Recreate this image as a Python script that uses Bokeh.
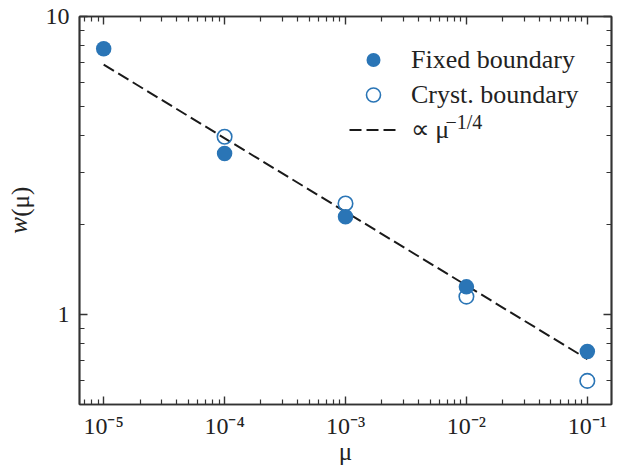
from bokeh.plotting import figure
from bokeh.models import (LogAxis, FixedTicker, CustomJSTickFormatter, Range1d,
                          Legend, LegendItem, Label)
from bokeh.embed import file_html
from bokeh.resources import INLINE

# ---- data ----
mu_fixed = [1e-5, 1e-4, 1e-3, 1e-2, 1e-1]
w_fixed = [7.8, 3.47, 2.13, 1.24, 0.753]
mu_cryst = [1e-4, 1e-3, 1e-2, 1e-1]
w_cryst = [3.95, 2.36, 1.15, 0.60]
mu_guide = [1e-5, 1e-1]
w_guide = [6.9, 0.71]

x_ticks = [1e-5, 1e-4, 1e-3, 1e-2, 1e-1]
x_tick_labels = ["10⁻⁵", "10⁻⁴", "10⁻³", "10⁻²", "10⁻¹"]
y_ticks = [1, 10]
y_tick_labels = ["1", "10"]

BLUE = "#2a75b6"
DARK = "#333333"
TXT = "#222222"
FONT = "Liberation Serif"

x_minor = [m * 10.0 ** e for e in range(-6, 0) for m in range(2, 10)]
y_minor = [m * 10.0 ** e for e in range(-1, 1) for m in range(2, 10)]

p = figure(width=617, height=470, x_axis_type="log", y_axis_type="log",
           x_range=Range1d(10 ** -5.2, 10 ** -0.8), y_range=Range1d(0.5, 10),
           output_backend="svg", toolbar_location=None,
           min_border_left=79, min_border_right=6, min_border_top=16,
           min_border_bottom=66)
p.grid.visible = False
p.outline_line_color = DARK
p.outline_line_width = 1.7
p.background_fill_color = "white"
p.border_fill_color = "white"

lab_js = """
for (let i = 0; i < vals.length; i++) {
  if (Math.abs(Math.log10(vals[i]) - Math.log10(tick)) < 1e-6) return labs[i];
}
return "";
"""
xfmt = CustomJSTickFormatter(args=dict(vals=x_ticks, labs=x_tick_labels), code=lab_js)
yfmt = CustomJSTickFormatter(args=dict(vals=y_ticks, labs=y_tick_labels), code=lab_js)
empty = CustomJSTickFormatter(code="return '';")

xticker = FixedTicker(ticks=x_ticks, minor_ticks=x_minor)
yticker = FixedTicker(ticks=y_ticks, minor_ticks=y_minor)


def style(ax):
    ax.major_tick_in = 8
    ax.major_tick_out = 0
    ax.minor_tick_in = 5
    ax.minor_tick_out = 0
    ax.major_tick_line_width = 1.4
    ax.minor_tick_line_width = 1.2
    ax.major_tick_line_color = DARK
    ax.minor_tick_line_color = DARK
    ax.axis_line_color = DARK
    ax.axis_line_width = 1.7
    ax.major_label_text_font = FONT
    ax.major_label_text_font_size = "24px"
    ax.major_label_text_color = TXT


xa = p.xaxis[0]
xa.ticker = xticker
xa.formatter = xfmt
style(xa)
xa.major_label_standoff = 8
xa.axis_label = "μ"
xa.axis_label_text_font = FONT
xa.axis_label_text_font_style = "normal"
xa.axis_label_text_font_size = "25px"
xa.axis_label_text_color = TXT
xa.axis_label_standoff = -4

# y-axis label "w(μ)": upright "(μ)" on the main axis (padded where the w goes),
# italic "w" on a tick-less companion axis that is pulled onto the same line.
PAD_W = "\u2002\u2009"      # about the width of an italic w
PAD_MU = "\u2003\u2009"     # about the width of "(μ)"

ya = p.yaxis[0]
ya.ticker = yticker
ya.formatter = yfmt
style(ya)
ya.major_label_standoff = 10
ya.axis_label = PAD_W + "(μ)"
ya.axis_label_text_font = FONT
ya.axis_label_text_font_style = "normal"
ya.axis_label_text_font_size = "25px"
ya.axis_label_text_color = TXT
ya.axis_label_standoff = 9

wax = LogAxis(ticker=FixedTicker(ticks=[]), formatter=empty)
wax.axis_line_color = None
wax.major_tick_in = 0
wax.major_tick_out = 0
wax.minor_tick_in = 0
wax.minor_tick_out = 0
wax.major_label_standoff = 0
wax.axis_label = "w" + PAD_MU
wax.axis_label_text_font = FONT
wax.axis_label_text_font_style = "italic"
wax.axis_label_text_font_size = "25px"
wax.axis_label_text_color = TXT
wax.axis_label_standoff = -28
p.add_layout(wax, "left")

top = LogAxis(ticker=xticker, formatter=empty)
style(top)
top.major_label_standoff = 0
top.major_label_text_font_size = "1px"
p.add_layout(top, "above")

right = LogAxis(ticker=yticker, formatter=empty)
style(right)
right.major_label_standoff = 0
right.major_label_text_font_size = "1px"
p.add_layout(right, "right")

r_guide = p.line(mu_guide, w_guide, line_color="#1a1a1a", line_width=2,
                 line_dash="12 5")
r_cryst = p.scatter(mu_cryst, w_cryst, size=14.5, fill_color="white",
                    fill_alpha=0, line_color=BLUE, line_width=1.6)
r_fixed = p.scatter(mu_fixed, w_fixed, size=15.5, fill_color=BLUE,
                    line_alpha=0)

legend = Legend(items=[LegendItem(label="Fixed boundary", renderers=[r_fixed]),
                       LegendItem(label="Cryst. boundary", renderers=[r_cryst]),
                       LegendItem(label="∝\u2009μ", renderers=[r_guide])],
                location=(270, 257), border_line_alpha=0,
                background_fill_alpha=0, label_text_font=FONT,
                label_text_font_size="26px", label_text_color=TXT,
                glyph_width=48, glyph_height=35, label_standoff=14,
                spacing=0, padding=0, margin=0)
p.add_layout(legend)

p.add_layout(Label(x=366, y=283, x_units="screen", y_units="screen",
                   text="−1/4", text_font=FONT, text_font_size="20px",
                   text_color=TXT, text_baseline="alphabetic"))

open("out.html", "w").write(file_html(p, INLINE))
